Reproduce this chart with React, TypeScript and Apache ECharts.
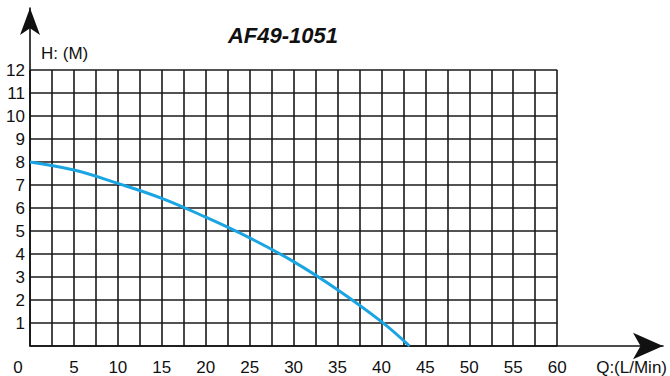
import React, { useEffect, useRef } from "react";
import * as echarts from "echarts";

const titleText = "AF49-1051";
const yAxisName = "H: (M)";
const xAxisName = "Q:(L/Min)";
const flowQ = [0, 5, 10, 15, 20, 25, 30, 35, 40, 43.2];
const headH = [8, 7.65, 7.07, 6.42, 5.6, 4.7, 3.67, 2.45, 1.06, 0];
const xMin = 0, xMax = 60, xStep = 2.5, xLabelStep = 5;
const yMin = 0, yMax = 12, yStep = 1;

const FONT = "'Liberation Sans', Arial, sans-serif";
const INK = "#111";

export default function App() {
  const ref = useRef<HTMLDivElement>(null);
  useEffect(() => {
    if (!ref.current) return;
    const chart = echarts.init(ref.current, undefined, { renderer: "svg" });
    const grid = { color: "#1a1a1a", width: 1.6 };
    chart.setOption({
      animation: false,
      backgroundColor: "#fff",
      graphic: [
        {
          type: "text",
          x: 283,
          y: 35,
          style: {
            text: titleText,
            fontFamily: FONT,
            fontSize: 22,
            fontWeight: "bold",
            fontStyle: "italic",
            fill: INK,
            align: "center",
            verticalAlign: "middle",
          },
        },
      ],
      grid: [
        { left: 30, right: 107, top: 70, bottom: 30 },
        { left: 30, right: 7, top: 8, bottom: 30 },
      ],
      xAxis: [
        {
          gridIndex: 0,
          type: "value",
          min: xMin,
          max: xMax,
          interval: xStep,
          name: xAxisName,
          nameLocation: "end",
          nameGap: 39,
          nameTextStyle: {
            fontFamily: FONT,
            fontSize: 17,
            color: INK,
            align: "left",
            verticalAlign: "top",
            padding: [13, 0, 0, 0],
          },
          axisLine: { show: false },
          axisTick: { show: false },
          splitLine: { show: true, lineStyle: grid },
          axisLabel: {
            margin: 13,
            fontFamily: FONT,
            fontSize: 17,
            color: INK,
            formatter: (v: number) =>
              v === 0 ? "{z|0}" : v % xLabelStep === 0 ? String(v) : "",
            rich: {
              z: { fontFamily: FONT, fontSize: 17, color: INK, padding: [0, 24, 0, 0] },
            },
          },
        },
        {
          gridIndex: 1,
          type: "value",
          min: 0,
          max: 1,
          axisLine: {
            show: true,
            symbol: ["none", "arrow"],
            symbolSize: [20, 30],
            lineStyle: { color: INK, width: 1.6 },
          },
          axisTick: { show: false },
          axisLabel: { show: false },
          splitLine: { show: false },
        },
      ],
      yAxis: [
        {
          gridIndex: 0,
          type: "value",
          min: yMin,
          max: yMax,
          interval: yStep,
          name: yAxisName,
          nameLocation: "end",
          nameGap: 8,
          nameTextStyle: {
            fontFamily: FONT,
            fontSize: 17,
            color: INK,
            align: "left",
            padding: [0, 0, 0, 11],
          },
          axisLine: { show: false },
          axisTick: { show: false },
          splitLine: { show: true, lineStyle: grid },
          axisLabel: {
            margin: 5,
            fontFamily: FONT,
            fontSize: 17,
            color: INK,
            formatter: (v: number) => (v === 0 ? "" : String(v)),
          },
        },
        {
          gridIndex: 1,
          type: "value",
          min: 0,
          max: 1,
          axisLine: {
            show: true,
            symbol: ["none", "arrow"],
            symbolSize: [15, 27],
            lineStyle: { color: INK, width: 1.6 },
          },
          axisTick: { show: false },
          axisLabel: { show: false },
          splitLine: { show: false },
        },
      ],
      series: [
        {
          type: "line",
          xAxisIndex: 0,
          yAxisIndex: 0,
          data: flowQ.map((q, i) => [q, headH[i]]),
          smooth: 0.4,
          symbol: "none",
          lineStyle: { color: "#1aa5e2", width: 3 },
        },
      ],
    });
    return () => chart.dispose();
  }, []);
  return <div ref={ref} style={{ width: 670, height: 376, position: "fixed", left: 0, top: 0 }} />;
}
